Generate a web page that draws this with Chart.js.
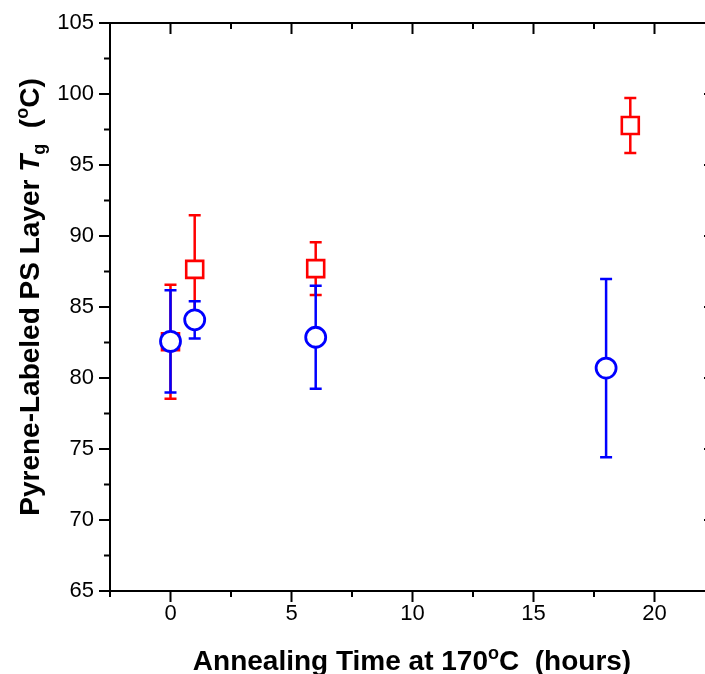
<!DOCTYPE html>
<html>
<head>
<meta charset="utf-8">
<script src="https://cdn.jsdelivr.net/npm/chart.js@4.4.1/dist/chart.umd.min.js"></script>
<style>
  html, body { margin: 0; padding: 0; background: #fff; overflow: hidden; }
  #wrap { width: 730px; height: 674px; }
</style>
</head>
<body>
<div id="wrap"><canvas id="c" width="730" height="674"></canvas></div>
<script>
// ---- data ----
const squareTimes = [0, 1, 6, 19];
const squareTg    = [82.55, 87.65, 87.7, 97.78];
const squareErr   = [4.02, 3.82, 1.86, 1.94];

const circleTimes = [0, 1, 6, 18];
const circleTg    = [82.58, 84.1, 82.87, 80.7];
const circleErr   = [3.6, 1.31, 3.63, 6.28];

const xTickLabels = [0, 5, 10, 15, 20];
const xMinorTicks = [-2.5, 2.5, 7.5, 12.5, 17.5, 22.5];
const yTickLabels = [65, 70, 75, 80, 85, 90, 95, 100, 105];
const yMinorTicks = [67.5, 72.5, 77.5, 82.5, 87.5, 92.5, 97.5, 102.5];

const xTitleParts = [['Annealing Time at 170', 'n'], ['o', 'sup'], ['C  (hours)', 'n']];
const yTitleParts = [['Pyrene-Labeled PS Layer ', 'n'], ['T', 'it'], ['g', 'sub'], ['  (', 'n'], ['o', 'sup'], ['C)', 'n']];

const FAMILY = '"Liberation Sans", Arial, sans-serif';

function toPoints(xs, ys, es) {
  return xs.map((x, i) => ({ x: x, y: ys[i], err: es[i] }));
}

const errorBars = {
  id: 'errorBars',
  beforeDatasetDraw(chart, args) {
    const ds = chart.data.datasets[args.index];
    const xs = chart.scales.x, ys = chart.scales.y;
    const ctx = chart.ctx;
    ctx.save();
    ctx.strokeStyle = ds.borderColor;
    ctx.lineWidth = 2.5;
    ds.data.forEach(p => {
      const px = xs.getPixelForValue(p.x);
      const top = ys.getPixelForValue(p.y + p.err);
      const bot = ys.getPixelForValue(p.y - p.err);
      ctx.beginPath();
      ctx.moveTo(px, top); ctx.lineTo(px, bot);
      ctx.moveTo(px - 6, top); ctx.lineTo(px + 6, top);
      ctx.moveTo(px - 6, bot); ctx.lineTo(px + 6, bot);
      ctx.stroke();
    });
    ctx.restore();
  }
};

function drawRich(ctx, parts, cx, baseY) {
  const fonts = {
    n: 'bold 28px ' + FAMILY,
    it: 'italic bold 28px ' + FAMILY,
    sub: 'bold 18px ' + FAMILY,
    sup: 'bold 18px ' + FAMILY
  };
  const dys = { n: 0, it: 0, sub: 6, sup: -11 };
  let total = 0;
  parts.forEach(([t, k]) => { ctx.font = fonts[k]; total += ctx.measureText(t).width; });
  let x = cx - total / 2;
  ctx.textBaseline = 'alphabetic';
  ctx.textAlign = 'left';
  parts.forEach(([t, k]) => {
    ctx.font = fonts[k];
    ctx.fillText(t, x, baseY + dys[k]);
    x += ctx.measureText(t).width;
  });
}

const frame = {
  id: 'frame',
  afterDraw(chart) {
    const { ctx, chartArea: a } = chart;
    const xs = chart.scales.x, ys = chart.scales.y;
    ctx.save();
    ctx.strokeStyle = '#000';
    ctx.lineWidth = 2;
    ctx.strokeRect(a.left, a.top, a.right - a.left, a.bottom - a.top);
    ctx.beginPath();
    const xTick = (v, len) => {
      const px = xs.getPixelForValue(v);
      ctx.moveTo(px, a.bottom); ctx.lineTo(px, a.bottom + len);
      ctx.moveTo(px, a.top); ctx.lineTo(px, a.top + len);
    };
    const yTick = (v, len) => {
      const py = ys.getPixelForValue(v);
      ctx.moveTo(a.left, py); ctx.lineTo(a.left - len, py);
      ctx.moveTo(a.right, py); ctx.lineTo(a.right - len, py);
    };
    xs.ticks.forEach(t => xTick(t.value, 11));
    xMinorTicks.forEach(v => xTick(v, 6));
    ys.ticks.forEach(t => yTick(t.value, 11));
    yMinorTicks.forEach(v => yTick(v, 6));
    ctx.stroke();

    ctx.fillStyle = '#000';
    drawRich(ctx, xTitleParts, 412, 670);
    ctx.save();
    ctx.translate(39, 297);
    ctx.rotate(-Math.PI / 2);
    drawRich(ctx, yTitleParts, 0, 0);
    ctx.restore();
    ctx.restore();
  }
};

new Chart(document.getElementById('c'), {
  type: 'scatter',
  data: {
    datasets: [
      {
        label: 'squares',
        data: toPoints(squareTimes, squareTg, squareErr),
        pointStyle: 'rect',
        pointRadius: 12,
        pointHoverRadius: 12,
        borderColor: '#ff0000',
        backgroundColor: '#ffffff',
        borderWidth: 2.6,
        order: 1
      },
      {
        label: 'circles',
        data: toPoints(circleTimes, circleTg, circleErr),
        pointStyle: 'circle',
        pointRadius: 10,
        pointHoverRadius: 10,
        borderColor: '#0000ff',
        backgroundColor: '#ffffff',
        borderWidth: 2.8,
        order: 0
      }
    ]
  },
  options: {
    responsive: false,
    animation: false,
    events: [],
    layout: { padding: { top: 23, right: 15, left: 0, bottom: 0 } },
    plugins: { legend: { display: false }, tooltip: { enabled: false } },
    scales: {
      x: {
        type: 'linear',
        min: -2.5,
        max: 22.5,
        afterBuildTicks: s => { s.ticks = xTickLabels.map(v => ({ value: v })); },
        afterFit: s => { s.height = 83; s.paddingLeft = 0; s.paddingRight = 0; },
        grid: { display: false, drawTicks: false },
        border: { display: false },
        ticks: {
          color: '#000',
          padding: 10,
          maxRotation: 0,
          font: { family: FAMILY, size: 22 },
          callback: v => String(v)
        }
      },
      y: {
        type: 'linear',
        min: 65,
        max: 105,
        afterBuildTicks: s => { s.ticks = yTickLabels.map(v => ({ value: v })); },
        afterFit: s => { s.width = 110; s.paddingTop = 0; s.paddingBottom = 0; },
        grid: { display: false, drawTicks: false },
        border: { display: false },
        ticks: {
          color: '#000',
          padding: 16,
          font: { family: FAMILY, size: 22 },
          callback: v => String(v)
        }
      }
    }
  },
  plugins: [errorBars, frame]
});
</script>
</body>
</html>
